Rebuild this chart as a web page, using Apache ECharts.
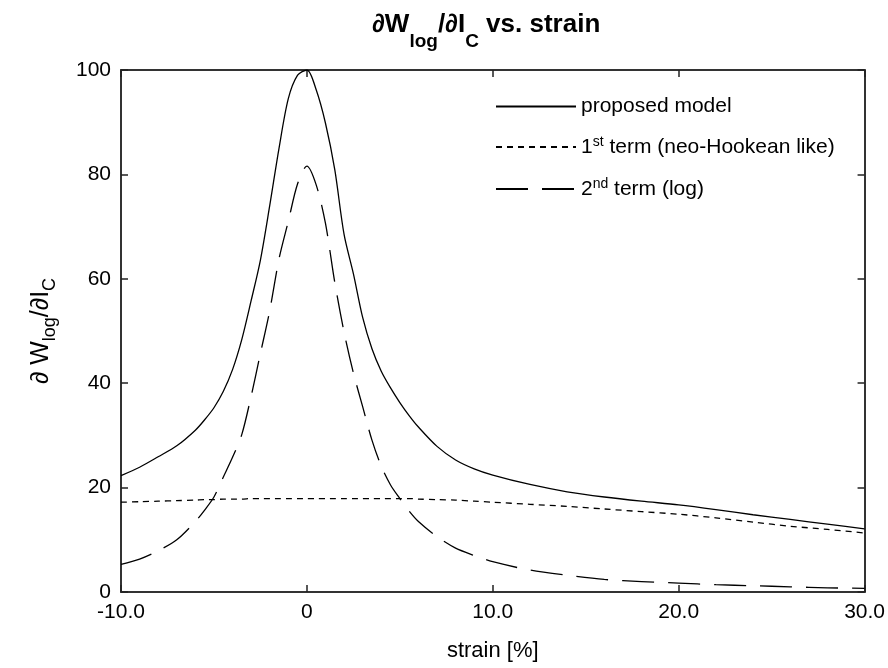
<!DOCTYPE html>
<html>
<head>
<meta charset="utf-8">
<script src="https://cdn.jsdelivr.net/npm/echarts@6/dist/echarts.min.js"></script>
<style>html,body{margin:0;padding:0;background:#fff}#c{width:888px;height:668px}</style>
</head>
<body>
<div id="c"></div>
<script>
var strain = [-10,-9,-8,-7,-6,-5.5,-5,-4.5,-4,-3.5,-3,-2.5,-2,-1.5,-1,-0.5,0,0.5,1,1.5,2,2.5,3,3.5,4,4.5,5,5.5,6,7,8,9,10,12,14,16,18,20,22,24,26,28,30];
var proposed = [22.3,23.9,25.9,28.0,31.0,33.0,35.3,38.4,42.6,48.4,55.8,63.6,74.0,85.0,94.5,99.0,100,96.2,89.8,80.9,68.5,61.0,52.6,46.6,42.3,39.1,36.3,33.8,31.6,27.9,25.3,23.6,22.4,20.6,19.2,18.2,17.4,16.7,15.8,14.8,13.9,13.0,12.1];
var neoTerm = [17.2,17.3,17.4,17.5,17.6,17.7,17.7,17.8,17.8,17.8,17.9,17.9,17.9,17.9,17.9,17.9,17.9,17.9,17.9,17.9,17.9,17.9,17.9,17.9,17.9,17.9,17.9,17.9,17.8,17.7,17.6,17.4,17.2,16.8,16.4,15.9,15.4,14.9,14.2,13.4,12.6,12.0,11.3];
var logTerm = [5.3,6.3,7.9,10.0,13.5,15.7,18.2,22.0,25.8,30.2,37.5,45.7,53.9,63.8,71.0,78.2,81.6,78.0,70.6,59.3,49.8,42.0,35.5,29.1,24.1,20.5,17.9,15.5,13.5,10.6,8.4,7.0,5.8,4.2,3.2,2.4,2.0,1.7,1.4,1.2,1.0,0.8,0.7];
var seriesNames = ['proposed model', '1st term (neo-Hookean like)', '2nd term (log)'];
var xTicks = {'-10':'-10.0','0':'0','10':'10.0','20':'20.0','30':'30.0'};

function pairs(v){ return strain.map(function(x,i){ return [x, v[i]]; }); }
var FONT = 'Liberation Sans';
var chart = echarts.init(document.getElementById('c'), null, {renderer:'canvas'});
function ax(extra){
  var base = {
    axisLine:{show:true, onZero:false, lineStyle:{color:'#333', width:2}},
    axisTick:{show:true, inside:true, length:7, lineStyle:{color:'#222', width:1.5}},
    splitLine:{show:false}
  };
  return Object.assign(base, extra);
}
chart.setOption({
  animation:false,
  backgroundColor:'#fff',
  title:{
    left:372, top:10, padding:0,
    text:'{n|∂W}{s|log}{n|/∂I}{s|C}{n| vs. strain}',
    textStyle:{
      rich:{
        n:{fontFamily:FONT, fontWeight:'bold', fontSize:26, lineHeight:30, color:'#000'},
        s:{fontFamily:FONT, fontWeight:'bold', fontSize:19, lineHeight:20, padding:[34,0,0,0], color:'#000'}
      }
    }
  },
  grid:{left:121, right:23, top:70, bottom:76, containLabel:false},
  legend:{
    orient:'vertical', left:490, top:91,
    itemWidth:80, itemHeight:14, itemGap:18,
    data:seriesNames,
    itemStyle:{color:'rgba(0,0,0,0)', borderColor:'rgba(0,0,0,0)', borderWidth:0, opacity:0},
    formatter:function(name){
      if(name.indexOf('1st')===0) return '{t|1}{sup|st}{t|'+name.slice(3)+'}';
      if(name.indexOf('2nd')===0) return '{t|2}{sup|nd}{t|'+name.slice(3)+'}';
      return '{t|'+name+'}';
    },
    textStyle:{
      padding:[0,0,0,0],
      rich:{
        t:{fontFamily:FONT, fontSize:21, lineHeight:24, color:'#000'},
        sup:{fontFamily:FONT, fontSize:14, lineHeight:14, padding:[0,0,10,0], color:'#000'}
      }
    }
  },
  xAxis:[
    ax({
      type:'value', min:-10, max:30, interval:10, position:'bottom',
      name:'strain [%]', nameLocation:'middle', nameGap:48,
      nameTextStyle:{fontFamily:FONT, fontSize:22, color:'#000'},
      axisLabel:{fontFamily:FONT, fontSize:21, color:'#000', margin:10,
        formatter:function(v){ return xTicks[String(v)]; }}
    }),
    ax({
      type:'value', min:-10, max:30, interval:10, position:'top',
      axisLabel:{show:false}
    })
  ],
  yAxis:[
    ax({
      type:'value', min:0, max:100, interval:20, position:'left',
      name:'{n|∂ W}{s|log}{n|/∂I}{s|C}', nameLocation:'middle', nameRotate:90, nameGap:66,
      nameTextStyle:{rich:{
        n:{fontFamily:FONT, fontSize:25, lineHeight:28, color:'#000'},
        s:{fontFamily:FONT, fontSize:18, lineHeight:20, padding:[18,0,0,0], color:'#000'}
      }},
      axisLabel:{fontFamily:FONT, fontSize:21, color:'#000', margin:10}
    }),
    ax({
      type:'value', min:0, max:100, interval:20, position:'right',
      axisLabel:{show:false}
    })
  ],
  series:[
    {name:seriesNames[0], type:'line', data:pairs(proposed), symbol:'none', smooth:0.3,
      lineStyle:{color:'#000', width:1.3, type:'solid'}, itemStyle:{color:'#000'}},
    {name:seriesNames[1], type:'line', data:pairs(neoTerm), symbol:'none', smooth:0.3,
      lineStyle:{color:'#000', width:1.3, type:[6,5]}, itemStyle:{color:'#000'}},
    {name:seriesNames[2], type:'line', data:pairs(logTerm), symbol:'none', smooth:0.3,
      lineStyle:{color:'#000', width:1.3, type:[32,14]}, itemStyle:{color:'#000'}}
  ]
});
</script>
</body>
</html>
